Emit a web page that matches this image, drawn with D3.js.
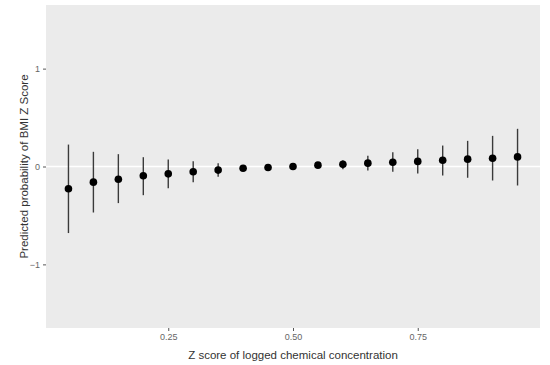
<!DOCTYPE html>
<html>
<head>
<meta charset="utf-8">
<script src="https://d3js.org/d3.v7.min.js"></script>
<style>
	body { margin: 0; background: #fff; }
	text { font-family: "Liberation Sans", Arial, sans-serif; }
</style>
</head>
<body>
<div id="chart"></div>
<script>
// z score points, estimates and interval ends
var zScores = [0.05, 0.10, 0.15, 0.20, 0.25, 0.30, 0.35, 0.40, 0.45, 0.50, 0.55, 0.60, 0.65, 0.70, 0.75, 0.80, 0.85, 0.90, 0.95]
var estimates = [-0.228, -0.16, -0.13, -0.095, -0.075, -0.054, -0.037, -0.018, -0.01, 0.0, 0.014, 0.022, 0.034, 0.044, 0.052, 0.064, 0.075, 0.085, 0.098]
var lowers = [-0.68, -0.47, -0.374, -0.293, -0.221, -0.16, -0.105, -0.035, -0.015, -0.005, 0.0, -0.027, -0.04, -0.054, -0.071, -0.092, -0.115, -0.143, -0.194]
var uppers = [0.224, 0.15, 0.126, 0.095, 0.071, 0.054, 0.034, 0.0, -0.005, 0.005, 0.028, 0.065, 0.11, 0.146, 0.177, 0.214, 0.262, 0.313, 0.385]
var xTicks = [0.25, 0.50, 0.75]
var yTicks = [-1, 0, 1]

var width = 550, height = 365
var margin = {top: 5, right: 10, bottom: 37, left: 46}

var svg = d3.select("#chart").append("svg")
	.attr("width", width)
	.attr("height", height)

var x = d3.scaleLinear()
	.domain([0.005, 0.995])
	.range([margin.left, width - margin.right])

var y = d3.scaleLinear()
	.domain([-1.65, 1.65])
	.range([height - margin.bottom, margin.top])

// panel
svg.append("rect")
	.attr("x", margin.left)
	.attr("y", margin.top)
	.attr("width", width - margin.left - margin.right)
	.attr("height", height - margin.top - margin.bottom)
	.attr("fill", "#ebebeb")

// white line at zero
svg.append("line")
	.attr("x1", margin.left)
	.attr("x2", width - margin.right)
	.attr("y1", y(0))
	.attr("y2", y(0))
	.attr("stroke", "#fff")
	.attr("stroke-width", 1.6)

var data = zScores.map(function(z, i){
	return {z: z, est: estimates[i], lo: lowers[i], hi: uppers[i]}
})

svg.selectAll(".bar")
	.data(data)
	.enter()
	.append("line")
	.attr("class", "bar")
	.attr("x1", function(d){ return x(d.z) })
	.attr("x2", function(d){ return x(d.z) })
	.attr("y1", function(d){ return y(d.lo) })
	.attr("y2", function(d){ return y(d.hi) })
	.attr("stroke", "#3a3a3a")
	.attr("stroke-width", 1.4)

svg.selectAll(".dot")
	.data(data)
	.enter()
	.append("circle")
	.attr("class", "dot")
	.attr("cx", function(d){ return x(d.z) })
	.attr("cy", function(d){ return y(d.est) })
	.attr("r", 3.8)
	.attr("fill", "#000")

// axes
var xAxis = svg.append("g")
	.attr("transform", "translate(0," + (height - margin.bottom) + ")")
	.call(d3.axisBottom(x).tickValues(xTicks).tickFormat(d3.format(".2f")).tickSize(3).tickPadding(3))
xAxis.select(".domain").remove()

var yAxis = svg.append("g")
	.attr("transform", "translate(" + margin.left + ",0)")
	.call(d3.axisLeft(y).tickValues(yTicks).tickFormat(d3.format("d")).tickSize(3).tickPadding(3))
yAxis.select(".domain").remove()

svg.selectAll(".tick line").attr("stroke", "#555")
svg.selectAll(".tick text")
	.attr("fill", "#666")
	.style("font-size", "9px")
	.style("font-family", "'Liberation Sans', Arial, sans-serif")

svg.append("text")
	.attr("x", (margin.left + width - margin.right) / 2)
	.attr("y", 359)
	.attr("text-anchor", "middle")
	.attr("fill", "#333")
	.style("font-size", "11.5px")
	.text("Z score of logged chemical concentration")

svg.append("text")
	.attr("transform", "translate(28," + y(0) + ") rotate(-90)")
	.attr("text-anchor", "middle")
	.attr("fill", "#333")
	.style("font-size", "11.5px")
	.text("Predicted probability of BMI Z Score")
</script>
</body>
</html>
